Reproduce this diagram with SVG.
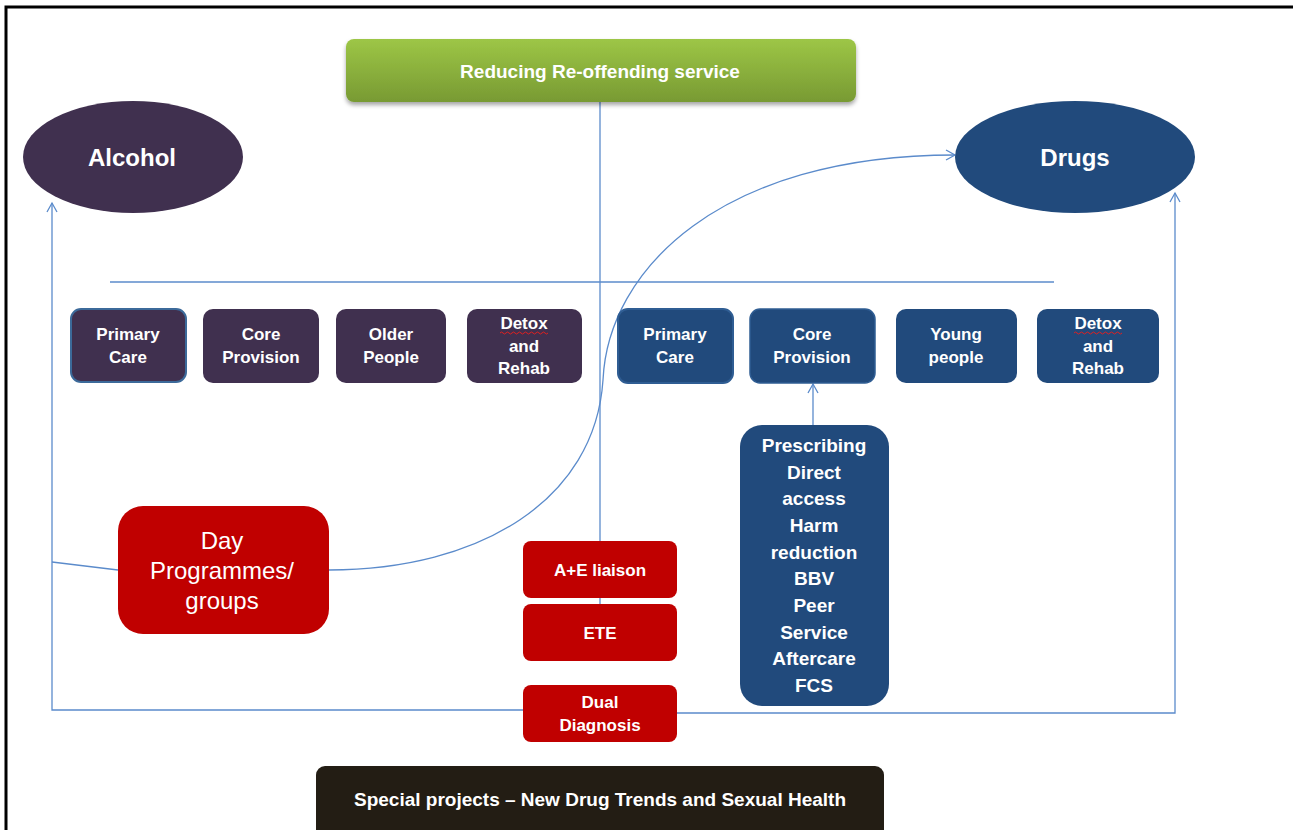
<svg xmlns="http://www.w3.org/2000/svg" width="1293" height="830" viewBox="0 0 1293 830">
<defs>
<linearGradient id="green" x1="0" y1="0" x2="0" y2="1">
<stop offset="0" stop-color="#9dc646"/>
<stop offset="1" stop-color="#789a33"/>
</linearGradient>
<filter id="shadow" x="-5%" y="-20%" width="110%" height="150%">
<feDropShadow dx="0" dy="3" stdDeviation="2" flood-color="#000" flood-opacity="0.35"/>
</filter>
<marker id="arr" markerWidth="12" markerHeight="12" refX="10" refY="6" orient="auto" markerUnits="userSpaceOnUse">
<path d="M1,1 L10,6 L1,11" fill="none" stroke="#5b8bcb" stroke-width="1.3"/>
</marker>
</defs>
<style>
text{font-family:"Liberation Sans",Arial,sans-serif;fill:#fff;text-anchor:middle;font-weight:bold}
text.reg{font-weight:normal}
.conn{fill:none;stroke:#5b8bcb;stroke-width:1.3}
.alc{fill:#40304f}
.drg{fill:#214a7c}
.red{fill:#c00000}
.lbl{font-size:17px}
.sq{fill:none;stroke:#e02020;stroke-width:1}
</style>
<rect width="1293" height="830" fill="#fff"/>
<path d="M6,830 L6,7 L1293,7" fill="none" stroke="#000" stroke-width="3"/>

<g id="connectors">
<line class="conn" x1="600" y1="102" x2="600" y2="541"/>
<line class="conn" x1="600" y1="598" x2="600" y2="604"/>
<line class="conn" x1="110" y1="282" x2="1054" y2="282"/>
<path class="conn" d="M329,570 C480,570 595,500 603,380 C608,270 720,155 955,155" marker-end="url(#arr)"/>
<path class="conn" d="M118,570 L52,562"/>
<path class="conn" d="M523,710 L52,710 L52,203" marker-end="url(#arr)"/>
<path class="conn" d="M677,713 L1175,713 L1175,193" marker-end="url(#arr)"/>
<line class="conn" x1="813" y1="425" x2="813" y2="384" marker-end="url(#arr)"/>
</g>

<g id="reducing">
<rect x="346" y="39" width="510" height="63" rx="8" fill="url(#green)" filter="url(#shadow)"/>
<text x="600" y="78" font-size="19">Reducing Re-offending service</text>
</g>

<g id="alcohol">
<ellipse cx="133" cy="157" rx="110" ry="56" class="alc"/>
<text x="132" y="166" font-size="24">Alcohol</text>
</g>

<g id="drugs">
<ellipse cx="1075" cy="157" rx="120" ry="56" class="drg"/>
<text x="1075" y="166" font-size="24">Drugs</text>
</g>

<g id="a-primary">
<rect x="71" y="309" width="115" height="73" rx="10" class="alc" stroke="#3c6a9a" stroke-width="2"/>
<text class="lbl" x="128" y="340">Primary</text>
<text class="lbl" x="128" y="363">Care</text>
</g>
<g id="a-core">
<rect x="203" y="309" width="116" height="74" rx="10" class="alc"/>
<text class="lbl" x="261" y="340">Core</text>
<text class="lbl" x="261" y="363">Provision</text>
</g>
<g id="a-older">
<rect x="336" y="309" width="110" height="74" rx="10" class="alc"/>
<text class="lbl" x="391" y="340">Older</text>
<text class="lbl" x="391" y="363">People</text>
</g>
<g id="a-detox">
<rect x="467" y="309" width="115" height="74" rx="10" class="alc"/>
<text class="lbl" x="524" y="329">Detox</text>
<path class="sq" d="M500,333 q1.5,-2 3,0 t3,0 t3,0 t3,0 t3,0 t3,0 t3,0 t3,0 t3,0 t3,0 t3,0 t3,0 t3,0 t3,0 t3,0 t3,0"/>
<text class="lbl" x="524" y="352">and</text>
<text class="lbl" x="524" y="374">Rehab</text>
</g>

<g id="d-primary">
<rect x="618" y="309" width="115" height="74" rx="10" class="drg" stroke="#2f5d93" stroke-width="2"/>
<text class="lbl" x="675" y="340">Primary</text>
<text class="lbl" x="675" y="363">Care</text>
</g>
<g id="d-core">
<rect x="750" y="309" width="125" height="74" rx="10" class="drg" stroke="#2f5d93" stroke-width="1.5"/>
<text class="lbl" x="812" y="340">Core</text>
<text class="lbl" x="812" y="363">Provision</text>
</g>
<g id="d-young">
<rect x="896" y="309" width="121" height="74" rx="10" class="drg"/>
<text class="lbl" x="956" y="340">Young</text>
<text class="lbl" x="956" y="363">people</text>
</g>
<g id="d-detox">
<rect x="1037" y="309" width="122" height="74" rx="10" class="drg"/>
<text class="lbl" x="1098" y="329">Detox</text>
<path class="sq" d="M1074,333 q1.5,-2 3,0 t3,0 t3,0 t3,0 t3,0 t3,0 t3,0 t3,0 t3,0 t3,0 t3,0 t3,0 t3,0 t3,0 t3,0 t3,0"/>
<text class="lbl" x="1098" y="352">and</text>
<text class="lbl" x="1098" y="374">Rehab</text>
</g>

<g id="prescribing">
<rect x="740" y="425" width="149" height="281" rx="22" class="drg"/>
<g font-size="19">
<text x="814" y="452">Prescribing</text>
<text x="814" y="479">Direct</text>
<text x="814" y="505">access</text>
<text x="814" y="532">Harm</text>
<text x="814" y="559">reduction</text>
<text x="814" y="585">BBV</text>
<text x="814" y="612">Peer</text>
<text x="814" y="639">Service</text>
<text x="814" y="665">Aftercare</text>
<text x="814" y="692">FCS</text>
</g>
</g>

<g id="day">
<rect x="118" y="506" width="211" height="128" rx="25" class="red"/>
<text class="reg" x="222" y="549" font-size="24">Day</text>
<text class="reg" x="222" y="579" font-size="24">Programmes/</text>
<text class="reg" x="222" y="609" font-size="24">groups</text>
</g>

<g id="ae">
<rect x="523" y="541" width="154" height="57" rx="8" class="red"/>
<text class="lbl" x="600" y="576">A+E  liaison</text>
</g>
<g id="ete">
<rect x="523" y="604" width="154" height="57" rx="8" class="red"/>
<text class="lbl" x="600" y="639">ETE</text>
</g>
<g id="dual">
<rect x="523" y="685" width="154" height="57" rx="8" class="red"/>
<text class="lbl" x="600" y="708">Dual</text>
<text class="lbl" x="600" y="731">Diagnosis</text>
</g>

<g id="special">
<rect x="316" y="766" width="568" height="80" rx="9" fill="#231d14"/>
<text x="600" y="806" font-size="19">Special projects – New Drug Trends and Sexual Health</text>
</g>
</svg>
